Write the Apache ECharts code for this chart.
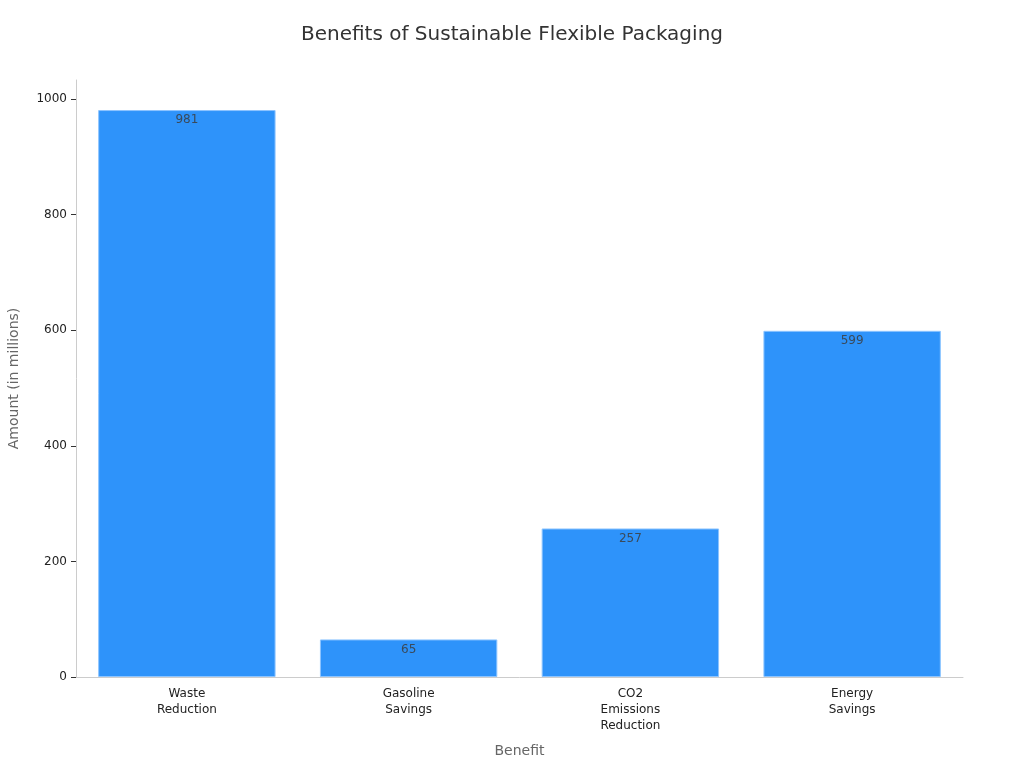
<!DOCTYPE html>
<html>
<head>
<meta charset="utf-8">
<script src="https://cdn.jsdelivr.net/npm/echarts@6/dist/echarts.min.js"></script>
<style>
  html, body { margin: 0; padding: 0; background: #fff; }
  #chart { width: 1024px; height: 768px; }
</style>
</head>
<body>
<div id="chart"></div>
<script>
// data
const categories = ['Waste Reduction', 'Gasoline Savings', 'CO2 Emissions Reduction', 'Energy Savings']
const amounts = [981, 65, 257, 599]
const yTicks = [0, 200, 400, 600, 800, 1000]

const chart = echarts.init(document.getElementById('chart'))
const font = 'DejaVu Sans'
const option = {
  textStyle: { fontFamily: font },
  title: {
    text: 'Benefits of Sustainable Flexible Packaging',
    left: 'center',
    top: 20,
    textStyle: { fontFamily: font, fontSize: 20, fontWeight: 'normal', color: '#333' }
  },
  grid: { left: 76, right: 61, top: 80, bottom: 91, outerBoundsMode: 'none', containLabel: false },
  xAxis: {
    type: 'category',
    data: categories,
    name: 'Benefit',
    nameLocation: 'middle',
    nameGap: 67,
    nameTextStyle: { fontFamily: font, fontSize: 14, color: '#666' },
    axisLine: { lineStyle: { color: '#ccc' } },
    axisTick: { alignWithLabel: true, length: 5, lineStyle: { color: '#333' } },
    axisLabel: {
      margin: 9,
      fontSize: 12,
      color: '#222',
      lineHeight: 16,
      formatter: v => v.split(' ').join('\n')
    }
  },
  yAxis: {
    type: 'value',
    min: 0,
    max: 1033,
    interval: 200,
    name: 'Amount (in millions)',
    nameLocation: 'middle',
    nameGap: 55,
    nameTextStyle: { fontFamily: font, fontSize: 14, color: '#666' },
    axisLine: { show: true, lineStyle: { color: '#ccc' } },
    axisTick: { show: true, length: 5, customValues: yTicks, lineStyle: { color: '#333' } },
    axisLabel: { margin: 9, fontSize: 12, color: '#222', customValues: yTicks, formatter: v => String(v) },
    splitLine: { show: false }
  },
  series: [
    {
      type: 'bar',
      data: amounts,
      barCategoryGap: '20%',
      itemStyle: { color: '#2e93fa', borderColor: '#8cc4ff', borderWidth: 1 },
      label: {
        show: true,
        position: 'insideTop',
        distance: 4,
        fontSize: 12,
        color: '#3a4a5a'
      }
    }
  ]
}
chart.setOption(option)
</script>
</body>
</html>
